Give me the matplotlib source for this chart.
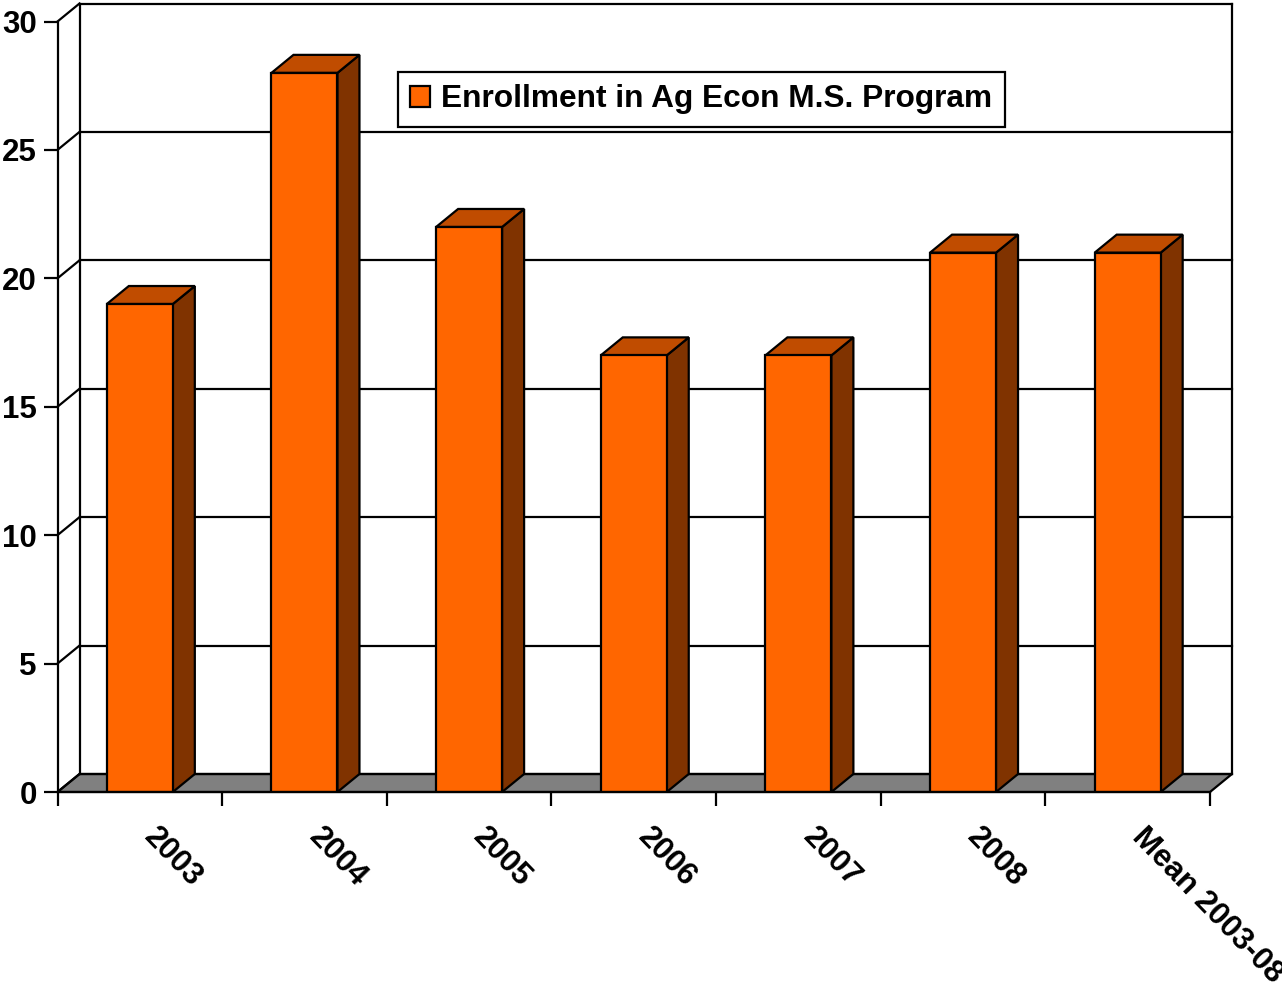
import matplotlib
matplotlib.use('Agg')
import matplotlib.pyplot as plt
from matplotlib.patches import Polygon, Patch
from matplotlib.transforms import ScaledTranslation

categories = ['2003', '2004', '2005', '2006', '2007', '2008', 'Mean 2003-08']
enrollment = [19, 28, 22, 17, 17, 21, 21]
yticks = [0, 5, 10, 15, 20, 25, 30]
series_label = 'Enrollment in Ag Econ M.S. Program'

FRONT = '#FF6600'
SIDE = '#803300'
TOP = '#C04C00'
FLOOR = '#808080'
LW = 1.6
FONT = 'Liberation Sans'

W, H = 1282, 994
fig = plt.figure(figsize=(W / 100, H / 100), dpi=100)
px0, px1 = 57.5, 1210.0
py0, py1 = 792.0, 21.5
ax = fig.add_axes([px0 / W, 1 - py0 / H, (px1 - px0) / W, (py0 - py1) / H])
n = len(categories)
ymax = 30
ax.set_xlim(-0.5, n - 0.5)
ax.set_ylim(0, ymax)
xs = (px1 - px0) / n
ys = (py0 - py1) / ymax
dx = 22 / xs
dy = 18 / ys
bw = 66 / xs

# floor
ax.add_patch(Polygon([(-0.5, 0), (n - 0.5, 0), (n - 0.5 + dx, dy), (-0.5 + dx, dy)],
                     closed=True, facecolor=FLOOR, edgecolor='black', lw=LW,
                     zorder=1, clip_on=False))
# back wall gridlines and side-wall diagonals
for v in yticks:
    ax.plot([-0.5 + dx, n - 0.5 + dx], [v + dy, v + dy], color='black', lw=LW,
            zorder=2, clip_on=False, solid_capstyle='projecting')
    ax.plot([-0.5, -0.5 + dx], [v, v + dy], color='black', lw=LW, zorder=2,
            clip_on=False)
ax.plot([-0.5 + dx, -0.5 + dx], [dy, ymax + dy], color='black', lw=LW, zorder=2, clip_on=False)
ax.plot([n - 0.5 + dx, n - 0.5 + dx], [dy, ymax + dy], color='black', lw=LW, zorder=2, clip_on=False)

# bars
x = list(range(n))
ax.bar(x, enrollment, width=bw, color=FRONT, edgecolor='black', lw=LW, zorder=4,
       label=series_label)
for xi, v in zip(x, enrollment):
    r = xi + bw / 2
    l = xi - bw / 2
    ax.add_patch(Polygon([(r, 0), (r + dx, dy), (r + dx, v + dy), (r, v)], closed=True,
                         facecolor=SIDE, edgecolor='black', lw=LW, zorder=3, clip_on=False))
    ax.add_patch(Polygon([(l, v), (r, v), (r + dx, v + dy), (l + dx, v + dy)], closed=True,
                         facecolor=TOP, edgecolor='black', lw=LW, zorder=3, clip_on=False))

# axes
for s in ['top', 'right']:
    ax.spines[s].set_visible(False)
for s in ['left', 'bottom']:
    ax.spines[s].set_linewidth(LW)
    ax.spines[s].set_zorder(5)
ax.set_yticks(yticks)
ax.set_yticklabels([str(t) for t in yticks], fontfamily=FONT, fontweight='bold', fontsize=22.5)
ax.tick_params(axis='y', length=10, width=LW, pad=5)
ax.set_xticks(x)
ax.set_xticklabels([])
ax.tick_params(axis='x', which='major', length=0)
ax.set_xticks([i - 0.5 for i in range(n + 1)], minor=True)
ax.tick_params(axis='x', which='minor', length=10, width=LW)

off = ScaledTranslation(9 / 100, -40 / 100, fig.dpi_scale_trans)
for xi, lab in zip(x, categories):
    ax.text(xi, 0, lab, transform=ax.transData + off, rotation=-46,
            rotation_mode='anchor', ha='left', va='center', fontfamily=FONT,
            fontweight='bold', fontsize=22.5)

leg = ax.legend(handles=[Patch(facecolor=FRONT, edgecolor='black', lw=LW, label=series_label)],
                loc='center', bbox_to_anchor=(701.5 / W, 1 - 99.5 / H),
                bbox_transform=fig.transFigure, fancybox=False, framealpha=1,
                edgecolor='black', handlelength=0.63, handleheight=0.63,
                handletextpad=0.35, borderpad=0.4,
                prop={'family': FONT, 'weight': 'bold', 'size': 22.8})
leg.get_frame().set_linewidth(LW)
leg.set_zorder(6)

fig.savefig('out.png', dpi=100)
